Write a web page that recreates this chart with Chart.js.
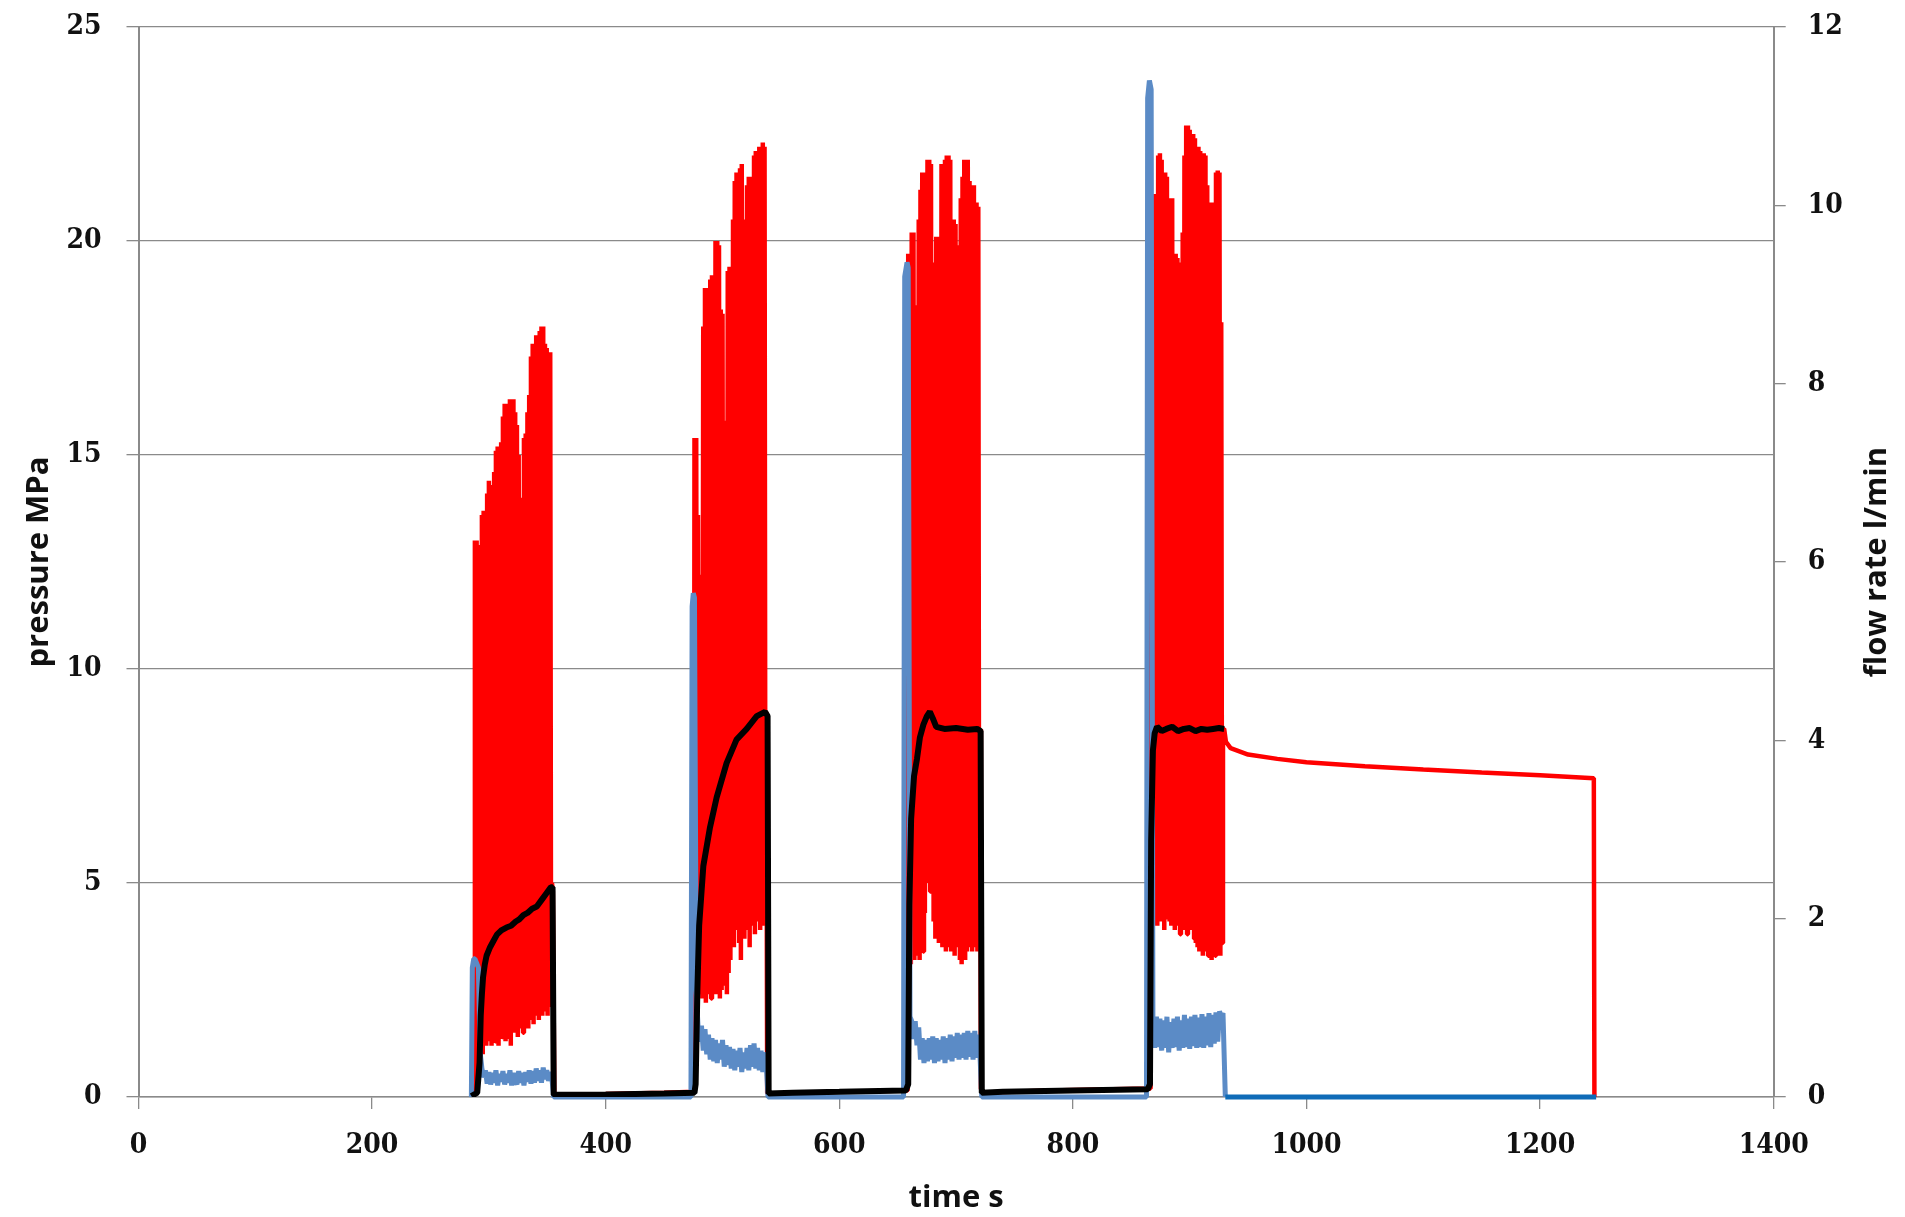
<!DOCTYPE html>
<html>
<head>
<meta charset="utf-8">
<script src="https://cdn.jsdelivr.net/npm/chart.js@4.4.1/dist/chart.umd.min.js"></script>
<style>
html, body { margin: 0; padding: 0; background: #fff; }
#wrap { width: 1905px; height: 1217px; position: relative; }
</style>
</head>
<body>
<div id="wrap"><canvas id="pumpChart"></canvas></div>
<script>
// first sample time of each pumping burst (s) and the spacing of samples inside a burst
const burstStart = [288, 476, 659, 867];
const sampleStep = 1.5;

// pressure peaks / troughs inside each burst (MPa)
const peaks1 = [13.0, 13.0, 12.9, 10.2, 13.6, 13.7, 13.7, 14.1, 14.4, 14.3, 14.0, 14.6, 15.1, 15.2, 14.9, 15.3, 15.9, 16.2, 16.2, 16.1,
  16.3, 16.3, 16.3, 16.0, 15.7, 15.0, 11.4, 14.0, 15.4, 15.5, 16.0, 16.4, 17.3, 17.6, 17.6, 17.8, 17.8, 17.9, 18.0, 18.0,
  17.6, 17.5, 17.4, 17.4, 5.0];
const troughs1 = [0.9, 1.0, 1.1, 1.2, 1.0, 1.3, 1.2, 1.4, 1.3, 1.2, 1.5, 1.3, 1.4, 1.2, 1.5, 1.4, 1.6, 1.3, 1.5, 1.4,
  1.2, 1.6, 1.5, 1.7, 1.4, 1.6, 1.8, 1.5, 1.9, 1.7, 1.6, 2.0, 1.8, 1.7, 1.9, 2.0, 1.8, 2.1, 1.9, 2.2,
  2.0, 1.9, 2.1, 2.2, 4.8];
const peaks2 = [15.4, 15.4, 13.6, 12.1, 12.2, 18.0, 18.9, 18.9, 18.9, 19.1, 19.2, 19.2, 20.0, 20.0, 19.9, 18.4, 18.3, 15.7, 15.8, 19.3,
  19.4, 19.4, 20.5, 21.4, 21.6, 21.6, 21.7, 21.8, 20.5, 17.5, 21.3, 21.5, 21.5, 20.5, 22.0, 22.1, 22.0, 22.2, 22.2, 22.3,
  22.2, 9.0];
const troughs2 = [2.0, 2.6, 2.4, 2.7, 2.3, 2.5, 2.2, 2.6, 2.4, 2.3, 2.7, 2.5, 2.4, 2.6, 2.3, 2.5, 2.8, 2.6, 2.4, 2.9,
  3.2, 3.8, 3.5, 3.9, 4.1, 3.6, 3.2, 4.0, 3.7, 4.2, 3.9, 3.5, 4.0, 4.3, 3.8, 4.1, 4.4, 3.9, 4.2, 4.0,
  4.3, 0.1];
const peaks3 = [19.7, 19.7, 20.2, 20.2, 18.5, 16.8, 20.5, 21.2, 21.6, 21.6, 21.5, 21.9, 21.9, 21.8, 19.5, 19.5, 20.1, 20.1, 20.0, 21.8,
  21.8, 21.9, 22.0, 22.0, 21.9, 20.5, 20.5, 20.4, 19.9, 19.8, 21.0, 21.5, 21.9, 21.9, 21.9, 21.4, 21.3, 21.3, 20.9, 20.9,
  20.8, 8.6];
const troughs3 = [3.3, 3.1, 3.4, 3.2, 3.5, 3.3, 3.2, 3.6, 3.4, 4.3, 5.0, 5.3, 4.8, 5.2, 4.1, 3.7, 3.9, 3.6, 3.8, 3.5,
  3.6, 3.4, 3.5, 3.7, 3.4, 3.6, 3.3, 3.5, 3.6, 3.2, 3.1, 3.3, 3.2, 3.4, 3.5, 3.6, 3.4, 3.5, 3.7, 3.4,
  3.5, 0.2];
const peaks4 = [21.1, 21.1, 21.1, 21.0, 22.0, 22.05, 21.9, 21.6, 21.6, 21.5, 21.0, 21.0, 21.0, 19.7, 19.7, 19.6, 19.5, 18.4, 20.2, 22.0,
  22.7, 22.7, 22.6, 22.5, 22.5, 22.4, 22.2, 22.2, 22.1, 22.0, 22.05, 22.0, 21.3, 20.9, 20.9, 20.9, 20.8, 21.6, 21.65, 21.6,
  18.1, 8.6];
const troughs4 = [4.4, 4.2, 4.3, 4.0, 4.3, 4.1, 4.4, 3.9, 4.2, 4.3, 4.1, 4.0, 4.2, 3.9, 4.1, 4.0, 3.8, 4.0, 3.9, 4.1,
  3.8, 4.0, 5.8, 3.9, 3.7, 3.6, 3.5, 3.4, 3.6, 3.3, 3.5, 3.4, 3.3, 3.5, 3.2, 3.4, 3.3, 3.5, 3.4, 3.3,
  3.6, 8.6];

// pressure before / between bursts (MPa)
const idleTime = [[285, 287.5], [356, 400, 450, 475.5], [539, 600, 658.5], [722.5, 780, 866.5]];
const idlePressure = [[0.05, 0.05], [0.05, 0.07, 0.1, 0.12], [0.08, 0.12, 0.15], [0.1, 0.15, 0.2]];

// pressure hold after the last burst (MPa)
const holdTime = [929.5, 931, 935, 950, 975, 1000, 1050, 1100, 1150, 1200, 1246, 1246.5];
const holdPressure = [8.6, 8.3, 8.15, 8.0, 7.9, 7.82, 7.73, 7.65, 7.58, 7.52, 7.45, 0];

// mean pressure (MPa)
const meanTime = [285, 290, 292, 293, 294, 295, 296.5, 298, 301, 304, 307, 311, 315, 319, 323, 326, 329.5, 333, 337, 341,
  345, 349, 353, 354.5, 355.5, 400, 450, 476, 477, 478.5, 480, 483.6, 489.3, 495, 503.5, 512, 520.7, 529.3, 536.4, 538.6,
  539.5, 560, 600, 657, 659, 660, 661.5, 664, 666.5, 669, 672, 675, 677.5, 680, 683, 690, 700, 710, 718, 721,
  722, 740, 800, 864, 866, 867, 868.5, 870, 872, 876, 880, 885, 890, 895, 900, 905, 910, 915, 920, 925, 929.5];
const meanPressure = [0.02, 0.1, 0.8, 1.9, 2.4, 2.8, 3.1, 3.3, 3.5, 3.65, 3.8, 3.9, 3.96, 4.0, 4.1, 4.15, 4.25, 4.3, 4.4, 4.45,
  4.6, 4.75, 4.9, 4.9, 0.05, 0.06, 0.08, 0.1, 0.3, 2.5, 4.0, 5.4, 6.3, 7.0, 7.8, 8.35, 8.6, 8.9, 9.0, 8.9,
  0.08, 0.1, 0.12, 0.15, 0.3, 4.5, 6.5, 7.5, 7.9, 8.4, 8.7, 8.9, 9.0, 8.85, 8.65, 8.6, 8.62, 8.58, 8.6, 8.55,
  0.1, 0.12, 0.15, 0.18, 0.3, 6.0, 8.1, 8.5, 8.65, 8.55, 8.6, 8.65, 8.55, 8.6, 8.62, 8.55, 8.6, 8.58, 8.6, 8.62, 8.6];

// flow rate (l/min): start-up surge, then samples on the burst grid
const surgeTime = [[285, 285.8, 287], [473, 474, 475], [655, 656, 658], [863, 864, 865.5]];
const surgeFlow = [[0, 1.45, 1.55], [0, 5.5, 5.65], [0, 9.2, 9.36], [0, 11.2, 11.4]];
const flow1 = [1.55, 1.5, 1.45, 0.5, 0.32, 0.22, 0.3, 0.15, 0.28, 0.14, 0.27, 0.16, 0.3, 0.13, 0.26, 0.17, 0.29, 0.14, 0.26, 0.16,
  0.3, 0.13, 0.27, 0.18, 0.14, 0.29, 0.16, 0.27, 0.13, 0.28, 0.17, 0.3, 0.15, 0.29, 0.16, 0.32, 0.18, 0.3, 0.16, 0.33,
  0.2, 0.3, 0.18, 0.28, 0.2];
const flow2 = [5.6, 1.2, 0.8, 0.62, 0.8, 0.52, 0.76, 0.48, 0.7, 0.42, 0.66, 0.4, 0.64, 0.38, 0.6, 0.42, 0.64, 0.34, 0.58, 0.36,
  0.56, 0.32, 0.54, 0.3, 0.52, 0.34, 0.55, 0.28, 0.5, 0.32, 0.55, 0.3, 0.58, 0.34, 0.6, 0.32, 0.55, 0.3, 0.52, 0.28,
  0.5, 0.35];
const flow3 = [9.3, 0.9, 0.85, 0.65, 0.85, 0.58, 0.78, 0.42, 0.66, 0.38, 0.64, 0.4, 0.66, 0.42, 0.68, 0.38, 0.66, 0.4, 0.64, 0.42,
  0.68, 0.38, 0.66, 0.42, 0.7, 0.4, 0.68, 0.44, 0.72, 0.42, 0.7, 0.44, 0.72, 0.42, 0.74, 0.45, 0.72, 0.42, 0.74, 0.44,
  0.7, 0.45];
const flow4 = [11.3, 0.85, 0.55, 0.9, 0.56, 0.88, 0.52, 0.86, 0.55, 0.9, 0.5, 0.84, 0.55, 0.88, 0.56, 0.9, 0.52, 0.86, 0.55, 0.92,
  0.56, 0.88, 0.54, 0.9, 0.57, 0.92, 0.55, 0.89, 0.56, 0.93, 0.55, 0.9, 0.58, 0.94, 0.56, 0.92, 0.6, 0.95, 0.62, 0.96,
  0.9, 0.94];
const flowStopTime = [355.5, 539, 722, 930.5];
const flowOffTime = 1248;

const peaks = [peaks1, peaks2, peaks3, peaks4];
const troughs = [troughs1, troughs2, troughs3, troughs4];
const flows = [flow1, flow2, flow3, flow4];

// build the pressure trace: idle, burst, idle, burst ... hold
let pressure = [];
burstStart.forEach((t0, k) => {
  idleTime[k].forEach((t, i) => pressure.push({x: t, y: idlePressure[k][i]}));
  peaks[k].forEach((p, i) => {
    pressure.push({x: t0 + i * sampleStep, y: p});
    pressure.push({x: t0 + (i + 0.5) * sampleStep, y: troughs[k][i]});
  });
});
holdTime.forEach((t, i) => pressure.push({x: t, y: holdPressure[i]}));

let mean = meanTime.map((t, i) => ({x: t, y: meanPressure[i]}));

let flow = [];
burstStart.forEach((t0, k) => {
  surgeTime[k].forEach((t, i) => flow.push({x: t, y: surgeFlow[k][i]}));
  flows[k].forEach((f, i) => flow.push({x: t0 + i * sampleStep, y: f}));
  flow.push({x: flowStopTime[k], y: 0});
});
flow.push({x: flowOffTime, y: 0});

const tickFont = {family: "'DejaVu Serif Condensed', 'DejaVu Serif', serif", size: 28, weight: 'bold'};
const titleFont = {family: "'Open Sans', sans-serif", size: 31, weight: 'bold'};
const gridGray = '#8a8a8a';

// fixed axis band sizes; no extra room for the end labels
const fitWidth = w => s => { s.width = w; s.paddingTop = 0; s.paddingBottom = 0; };

// right-hand axis title reads bottom-to-top like the left one
const rightTitle = {
  id: 'rightTitle',
  afterDraw(chart) {
    const {ctx, chartArea} = chart;
    ctx.save();
    ctx.translate(chart.width - 28, (chartArea.top + chartArea.bottom) / 2);
    ctx.rotate(-Math.PI / 2);
    ctx.font = 'bold 31px "Open Sans", sans-serif';
    ctx.fillStyle = '#111';
    ctx.textAlign = 'center';
    ctx.textBaseline = 'middle';
    ctx.fillText('flow rate l/min', 0, 0);
    ctx.restore();
  }
};

let makeChart = function() {
  const ctx = document.getElementById('pumpChart');

  new Chart(ctx, {
    type: 'line',
    data: {
      datasets: [
        {
          label: 'mean pressure',
          data: mean,
          borderColor: '#000000',
          borderWidth: 6,
          yAxisID: 'y',
        },
        {
          label: 'flow rate',
          data: flow,
          borderColor: '#5b8bc6',
          borderWidth: 5,
          yAxisID: 'y2',
          clip: false,
          segment: {
            borderColor: c => c.p0.parsed.x >= 930 ? '#0f6cb8' : undefined,
          },
        },
        {
          label: 'pressure',
          data: pressure,
          borderColor: '#ff0000',
          borderWidth: 4.5,
          yAxisID: 'y',
        },
      ]
    },
    options: {
      maintainAspectRatio: false,
      responsive: true,
      animation: false,
      normalized: true,
      elements: {
        point: {radius: 0},
        line: {tension: 0, borderJoinStyle: 'bevel', borderCapStyle: 'butt'},
      },
      layout: {padding: {top: 27, left: 0, right: 0, bottom: 0}},
      plugins: {
        legend: {display: false},
        tooltip: {enabled: false},
      },
      scales: {
        x: {
          type: 'linear',
          min: 0,
          max: 1400,
          afterFit: s => { s.height = 120; s.paddingLeft = 0; s.paddingRight = 0; },
          ticks: {stepSize: 200, font: tickFont, color: '#111', padding: 20, maxRotation: 0,
            format: {useGrouping: false}},
          grid: {drawOnChartArea: false, tickLength: 12, color: gridGray, lineWidth: 1.3},
          border: {color: gridGray, width: 1.5},
          title: {display: true, text: 'time s', font: titleFont, color: '#111', padding: {top: 0, bottom: 0}},
        },
        y: {
          position: 'left',
          min: 0,
          max: 25,
          afterFit: fitWidth(138.5),
          ticks: {stepSize: 5, font: tickFont, color: '#111', padding: 25},
          grid: {tickLength: 12, color: gridGray, lineWidth: 1.3},
          border: {color: gridGray, width: 2},
          title: {display: true, text: 'pressure MPa', font: titleFont, color: '#111', padding: {top: 21, bottom: 0}},
        },
        y2: {
          position: 'right',
          min: 0,
          max: 12,
          afterFit: fitWidth(131.3),
          ticks: {stepSize: 2, font: tickFont, color: '#111', padding: 22},
          grid: {drawOnChartArea: false, tickLength: 12, color: gridGray, lineWidth: 1.3},
          border: {color: gridGray, width: 2},
        },
      }
    },
    plugins: [rightTitle]
  });
}

document.addEventListener('DOMContentLoaded', makeChart, false);
</script>
</body>
</html>
